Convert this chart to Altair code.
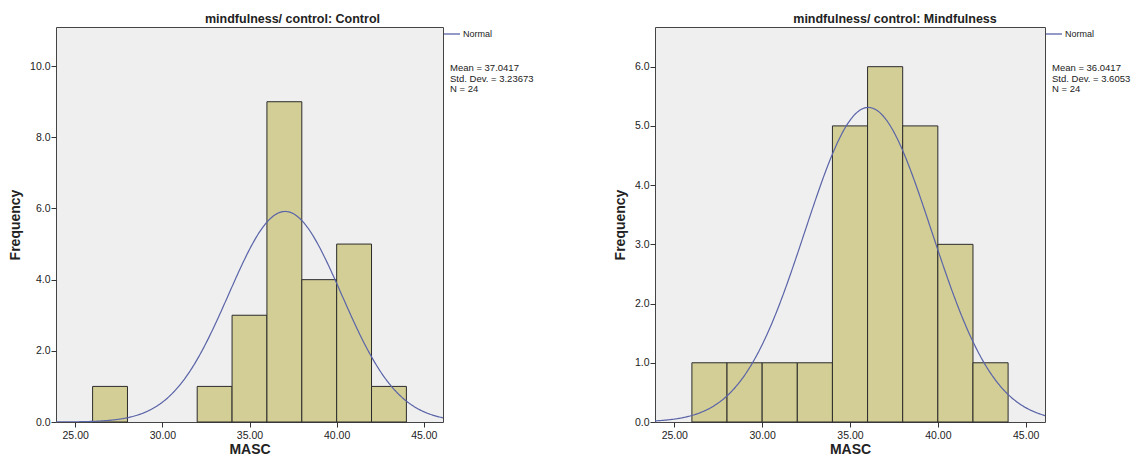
import altair as alt
import pandas as pd

# ---- data ----
groups = ["Control", "Mindfulness"]
bin_starts = [26, 28, 30, 32, 34, 36, 38, 40, 42]
bin_width = 2
control_counts = [1, 0, 0, 1, 3, 9, 4, 5, 1]
mindful_counts = [1, 1, 1, 1, 5, 6, 5, 3, 1]
means = [37.0417, 36.0417]
sd_labels = ["3.23673", "3.6053"]
ns = [24, 24]
x_ticks = [25, 30, 35, 40, 45]
control_y_ticks = [0, 2, 4, 6, 8, 10]
mindful_y_ticks = [0, 1, 2, 3, 4, 5, 6]
x_domain = [23.9, 46.1]
y_domains = [[0, 11.1], [0, 6.67]]

FONT = "Liberation Sans"
BAR_FILL = "#d3ce96"
BAR_STROKE = "#2b2b2b"
CURVE = "#5a64a8"


def panel(i, counts, y_ticks, width, height, title_dx):
    df = pd.DataFrame({
        "start": bin_starts,
        "end": [b + bin_width for b in bin_starts],
        "count": counts,
    })
    df = df[df["count"] > 0]

    xs = alt.Scale(domain=x_domain, nice=False, zero=False)
    ys = alt.Scale(domain=y_domains[i], nice=False, zero=True)
    xaxis = alt.Axis(values=x_ticks, format=".2f", title="MASC", grid=False,
                     domain=False, tickSize=5, tickColor="#333", labelPadding=3,
                     labelFontSize=10.5, labelColor="#222", labelFont=FONT,
                     titleFontSize=14, titleFontWeight="bold", titleFont=FONT,
                     titleColor="#222", titlePadding=2)
    yaxis = alt.Axis(values=y_ticks, format=".1f", title="Frequency", grid=False,
                     domain=False, tickSize=5, tickColor="#333", labelPadding=1,
                     labelFontSize=10.5, labelColor="#222", labelFont=FONT,
                     titleFontSize=14, titleFontWeight="bold", titleFont=FONT,
                     titleColor="#222", titlePadding=7)

    bars = alt.Chart(df).mark_rect(fill=BAR_FILL, stroke=BAR_STROKE, strokeWidth=1).encode(
        x=alt.X("start:Q", scale=xs, axis=xaxis),
        x2="end:Q",
        y=alt.Y("count:Q", scale=ys, axis=yaxis),
        y2=alt.datum(0),
    )

    n = ns[i]
    m = means[i]
    s = float(sd_labels[i])
    curve = alt.Chart(alt.sequence(x_domain[0], x_domain[1] + 0.001, 0.05, as_="x")).transform_calculate(
        y=f"{n * bin_width} * exp(-0.5 * pow((datum.x - {m}) / {s}, 2)) / ({s} * sqrt(2 * PI))"
    ).mark_line(color=CURVE, strokeWidth=1.2, clip=True).encode(
        x=alt.X("x:Q", scale=xs, axis=xaxis),
        y=alt.Y("y:Q", scale=ys, axis=yaxis),
    )

    leg_df = pd.DataFrame({"label": ["Normal"]})
    leg_line = alt.Chart(leg_df).mark_rule(color=CURVE, strokeWidth=1.3).encode(
        x=alt.value(width + 1), x2=alt.value(width + 17), y=alt.value(7)
    )
    leg_text = alt.Chart(leg_df).mark_text(align="left", baseline="middle", font=FONT,
                                            fontSize=9, color="#222").encode(
        x=alt.value(width + 20), y=alt.value(7), text="label:N"
    )

    stats_df = pd.DataFrame({"label": [
        f"Mean = {m}\nStd. Dev. = {sd_labels[i]}\nN = {n}"
    ]})
    stats = alt.Chart(stats_df).mark_text(align="left", baseline="top", font=FONT,
                                           fontSize=9.5, color="#222", lineBreak="\n",
                                           lineHeight=10.5).encode(
        x=alt.value(width + 7), y=alt.value(36), text="label:N"
    )

    return alt.layer(bars, curve, leg_line, leg_text, stats).properties(
        width=width, height=height,
        title=alt.TitleParams(text=f"mindfulness/ control: {groups[i]}", font=FONT,
                              fontSize=12.5, fontWeight="bold", color="#222",
                              anchor="middle", frame="group", dx=title_dx, offset=2),
    )


left = panel(0, control_counts, control_y_ticks, 387, 395, 43)
right = panel(1, mindful_counts, mindful_y_ticks, 390, 395, 45)

chart = alt.hconcat(left, right, spacing=77).configure(
    font=FONT, padding={"left": 0, "top": 4, "right": 0, "bottom": 0}
).configure_view(fill="#efefef", stroke="#444", strokeWidth=1)

chart.save("out.html", embed_options={"renderer": "svg", "actions": False})
